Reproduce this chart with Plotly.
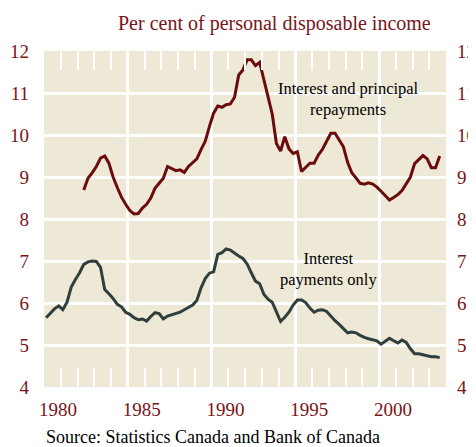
import plotly.graph_objects as go

# Quarterly data (quarter mid-points)
principal_start = 1982.375
principal_values = [
    8.69, 8.97, 9.10,
    9.25, 9.45, 9.50, 9.33,
    9.00, 8.75, 8.52, 8.35,
    8.20, 8.12, 8.13, 8.26,
    8.35, 8.50, 8.73, 8.85,
    8.97, 9.25, 9.20, 9.15,
    9.17, 9.11, 9.25, 9.35,
    9.43, 9.65, 9.85, 10.20,
    10.52, 10.69, 10.66, 10.72,
    10.74, 10.90, 11.43, 11.55,
    11.79, 11.79, 11.65, 11.73,
    11.30, 10.87, 10.50, 9.80,
    9.62, 9.96, 9.67, 9.56,
    9.60, 9.13, 9.24, 9.33,
    9.33, 9.52, 9.66, 9.85,
    10.04, 10.04, 9.88, 9.72,
    9.35, 9.10, 8.98, 8.85,
    8.83, 8.86, 8.83, 8.76,
    8.66, 8.55, 8.45, 8.51,
    8.58, 8.68, 8.83, 9.00,
    9.32, 9.42, 9.51, 9.43,
    9.22, 9.22, 9.50,
]

interest_start = 1980.125
interest_values = [
    5.65, 5.76, 5.86, 5.93,
    5.84, 6.02, 6.38, 6.56,
    6.72, 6.92, 6.98, 7.00,
    6.99, 6.85, 6.32, 6.22,
    6.11, 5.97, 5.91, 5.78,
    5.73, 5.65, 5.60, 5.62,
    5.57, 5.68, 5.77, 5.75,
    5.62, 5.69, 5.72, 5.74,
    5.78, 5.84, 5.90, 5.95,
    6.06, 6.36, 6.58, 6.71,
    6.74, 7.16, 7.20, 7.29,
    7.26, 7.18, 7.12, 7.06,
    6.93, 6.72, 6.52, 6.46,
    6.21, 6.09, 6.02, 5.79,
    5.56, 5.66, 5.78, 5.95,
    6.07, 6.07, 6.01, 5.88,
    5.78, 5.83, 5.84, 5.80,
    5.68, 5.58, 5.49, 5.38,
    5.29, 5.31, 5.29, 5.23,
    5.18, 5.15, 5.12, 5.10,
    5.02, 5.08, 5.16, 5.10,
    5.05, 5.12, 5.06, 4.91,
    4.79, 4.79, 4.77, 4.75,
    4.72, 4.72, 4.70,
]

x_tick_years = [1980, 1985, 1990, 1995, 2000]
y_ticks = [4, 5, 6, 7, 8, 9, 10, 11, 12]

principal_x = [principal_start + 0.25 * i for i in range(len(principal_values))]
interest_x = [interest_start + 0.25 * i for i in range(len(interest_values))]

RED = "#6b0b0b"
GREEN = "#2f3f3b"
LABEL = "#7a1418"
BG = "#eee9d6"
SERIF = "Liberation Serif, Times New Roman, serif"

fig = go.Figure()
fig.add_trace(go.Scatter(x=principal_x, y=principal_values, mode="lines",
                         line=dict(color=RED, width=3), hoverinfo="skip", showlegend=False))
fig.add_trace(go.Scatter(x=interest_x, y=interest_values, mode="lines",
                         line=dict(color=GREEN, width=3), hoverinfo="skip", showlegend=False))
# invisible trace to carry the right-hand axis
fig.add_trace(go.Scatter(x=[1980], y=[4], yaxis="y2", mode="markers",
                         marker=dict(opacity=0), hoverinfo="skip", showlegend=False))

# page body has an 8px default margin; the figure is sized to compensate
fig.update_layout(
    width=468, height=439,
    margin=dict(l=36, r=30, t=43, b=60, autoexpand=False),
    paper_bgcolor="white",
    plot_bgcolor=BG,
    font=dict(family=SERIF, color=LABEL, size=19),
    xaxis=dict(
        range=[1980, 2004], tickvals=x_tick_years, ticktext=[str(v) for v in x_tick_years],
        showgrid=True, gridcolor="white", gridwidth=2.5,
        ticks="inside", ticklen=19, tickwidth=2, tickcolor="white", mirror="ticks",
        minor=dict(dtick=1, tick0=1980, ticks="inside", ticklen=19, tickwidth=2,
                   tickcolor="white", showgrid=False),
        ticklabelposition="outside right", ticklabelshift=-6, ticklabelstandoff=9,
        tickfont=dict(size=19, color=LABEL, family=SERIF),
        showline=False, zeroline=False, fixedrange=True, automargin=False,
    ),
    yaxis=dict(
        range=[4, 12], tickvals=y_ticks, showgrid=True, gridcolor="white", gridwidth=2.5,
        ticks="", showline=False, zeroline=False, ticklabelstandoff=14,
        tickfont=dict(size=19, color=LABEL, family=SERIF), fixedrange=True, automargin=False,
    ),
    yaxis2=dict(
        range=[4, 12], tickvals=y_ticks, overlaying="y", side="right",
        showgrid=False, ticks="", showline=False, zeroline=False, ticklabelstandoff=10,
        tickfont=dict(size=19, color=LABEL, family=SERIF), fixedrange=True, automargin=False,
    ),
)

fig.add_annotation(text="Per cent of personal disposable income", xref="paper", yref="paper",
                   x=0.968, y=1.083, xanchor="right", yanchor="middle", showarrow=False,
                   font=dict(size=20, color=LABEL, family=SERIF))
fig.add_annotation(text="Source: Statistics Canada and Bank of Canada", xref="paper", yref="paper",
                   x=0.0, y=-0.149, xanchor="left", yanchor="middle", showarrow=False,
                   font=dict(size=18, color="black", family=SERIF))
fig.add_annotation(text="Interest and principal<br>repayments", x=1998.2, y=10.85,
                   showarrow=False, font=dict(size=16.5, color="black", family=SERIF))
fig.add_annotation(text="Interest<br>payments only", x=1997.0, y=6.82,
                   showarrow=False, font=dict(size=16.5, color="black", family=SERIF))

fig.write_html("out.html")
